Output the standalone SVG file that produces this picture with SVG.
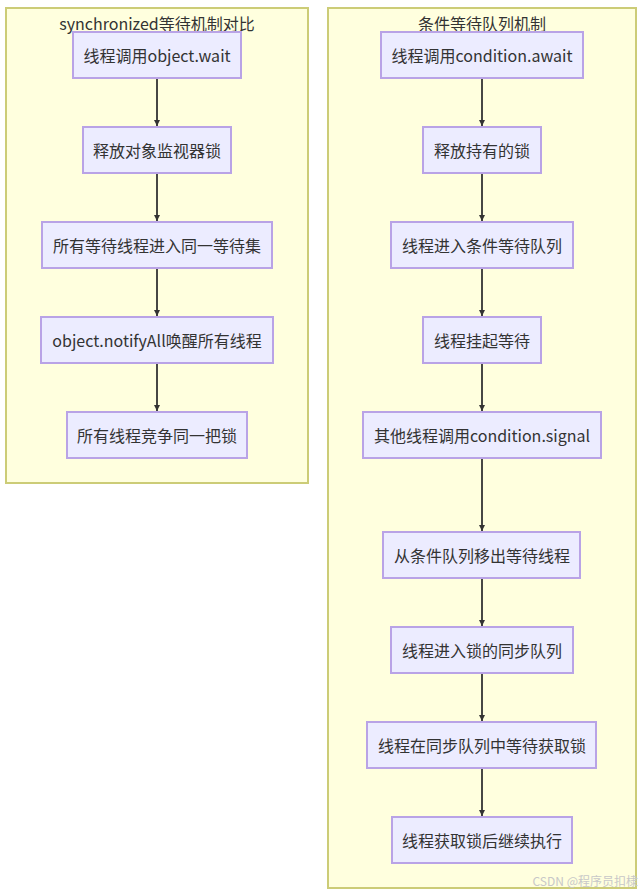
<svg xmlns="http://www.w3.org/2000/svg" width="642" height="892" viewBox="0 0 642 892">
<style>
.cluster rect{fill:#ffffde;stroke:#cccc77;stroke-width:2}
.node rect{fill:#ececff;stroke:#b9a3e6;stroke-width:2}
text{font-family:"Microsoft YaHei","Noto Sans CJK SC","Noto Sans",sans-serif;font-size:16px;fill:#333;text-anchor:middle;dominant-baseline:central}
.edges path{stroke:#333;stroke-width:1.8;fill:none;marker-end:url(#arr)}
.wm{font-size:12px;fill:#c8c8c8;text-anchor:end}
</style>
<defs>
<marker id="arr" viewBox="0 0 10 10" refX="10" refY="5" markerWidth="6" markerHeight="6" markerUnits="userSpaceOnUse" orient="auto">
<path d="M0,0 L10,5 L0,10 z" fill="#333"/>
</marker>
</defs>
<g id="cluster-sync" class="cluster">
<rect x="6" y="8" width="302" height="475"/>
<text x="157" y="23">synchronized等待机制对比</text>
</g>
<g id="cluster-cond" class="cluster">
<rect x="328" y="8" width="308" height="880"/>
<text x="482" y="23">条件等待队列机制</text>
</g>
<g class="edges" id="edges">
<path d="M157,79 V126"/>
<path d="M157,174 V221"/>
<path d="M157,269 V316"/>
<path d="M157,364 V411"/>
<path d="M482,79 V126"/>
<path d="M482,174 V221"/>
<path d="M482,269 V316"/>
<path d="M482,364 V411"/>
<path d="M482,459 V531"/>
<path d="M482,579 V626"/>
<path d="M482,674 V721"/>
<path d="M482,769 V816"/>
</g>
<g id="A1" class="node"><rect x="73" y="32" width="168" height="46"/><text x="157" y="55">线程调用object.wait</text></g>
<g id="A2" class="node"><rect x="83" y="127" width="148" height="46"/><text x="157" y="150">释放对象监视器锁</text></g>
<g id="A3" class="node"><rect x="42" y="222" width="230" height="46"/><text x="157" y="245">所有等待线程进入同一等待集</text></g>
<g id="A4" class="node"><rect x="41" y="317" width="232" height="46"/><text x="157" y="340">object.notifyAll唤醒所有线程</text></g>
<g id="A5" class="node"><rect x="67" y="412" width="180" height="46"/><text x="157" y="435">所有线程竞争同一把锁</text></g>
<g id="B1" class="node"><rect x="381" y="32" width="202" height="46"/><text x="482" y="55">线程调用condition.await</text></g>
<g id="B2" class="node"><rect x="423" y="127" width="118" height="46"/><text x="482" y="150">释放持有的锁</text></g>
<g id="B3" class="node"><rect x="391" y="222" width="182" height="46"/><text x="482" y="245">线程进入条件等待队列</text></g>
<g id="B4" class="node"><rect x="423" y="317" width="118" height="46"/><text x="482" y="340">线程挂起等待</text></g>
<g id="B5" class="node"><rect x="363" y="412" width="238" height="46"/><text x="482" y="435">其他线程调用condition.signal</text></g>
<g id="B6" class="node"><rect x="383" y="532" width="197" height="46"/><text x="482" y="555">从条件队列移出等待线程</text></g>
<g id="B7" class="node"><rect x="391" y="627" width="182" height="46"/><text x="482" y="650">线程进入锁的同步队列</text></g>
<g id="B8" class="node"><rect x="367" y="722" width="229" height="46"/><text x="482" y="745">线程在同步队列中等待获取锁</text></g>
<g id="B9" class="node"><rect x="392" y="817" width="180" height="46"/><text x="482" y="840">线程获取锁后继续执行</text></g>
<text class="wm" x="638" y="880">CSDN @程序员扣棣</text>
</svg>
